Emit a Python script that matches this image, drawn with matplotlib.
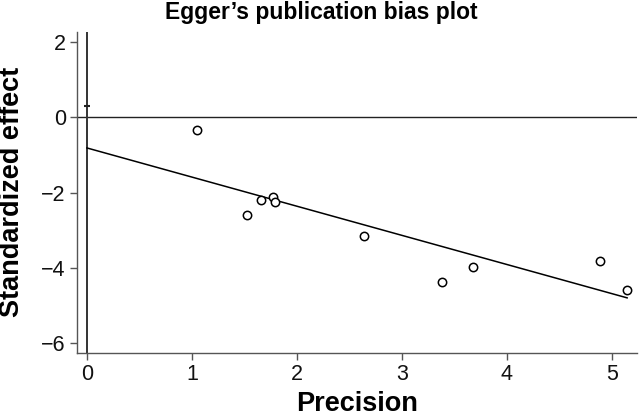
"""
Egger's publication bias plot
"""

import numpy as np
import matplotlib.pyplot as plt

# data
precision = [1.05, 1.52, 1.655, 1.775, 1.79, 2.64, 3.38, 3.68, 4.886, 5.146]
std_effect = [-0.33, -2.61, -2.20, -2.13, -2.26, -3.15, -4.38, -3.98, -3.83, -4.60]

# fitted line (intercept, slope) and upper CI mark of the intercept
fit_intercept = -0.815
fit_slope = -0.775
ci_upper = 0.31

xticks = [0, 1, 2, 3, 4, 5]
yticks = [2, 0, -2, -4, -6]

plt.rcParams['font.family'] = ['Liberation Sans', 'DejaVu Sans']
axcol = '#555555'

fig = plt.figure(figsize=(6.39, 4.20), dpi=100)
W, H = 639, 420
ax = fig.add_axes([77 / W, (H - 353) / H, (637 - 77) / W, (353 - 32) / H])

ax.set_xlim(-0.095, 5.24)
ax.set_ylim(-6.27, 2.27)

# reference lines
ax.axhline(0, color='#222222', lw=1.0, zorder=1)
ax.axvline(0, color='#333333', lw=1.4, zorder=1)
ax.plot([0], [ci_upper], marker='_', color='#222222', ms=5, mew=1.5, zorder=2)

# regression line
xfit = np.array([0, max(precision)])
ax.plot(xfit, fit_intercept + fit_slope * xfit, color='black', lw=1.1, zorder=2)

# studies
ax.scatter(precision, std_effect, s=36, facecolors='white', edgecolors='black',
           linewidths=1.1, zorder=3)

for s in ['top', 'right']:
    ax.spines[s].set_visible(False)
for s in ['left', 'bottom']:
    ax.spines[s].set_color(axcol)
    ax.spines[s].set_linewidth(1.0)

ax.set_xticks(xticks)
ax.set_yticks(yticks)
ax.set_yticklabels(['2', '0', '\u22122', '\u22124', '\u22126'])
ax.tick_params(axis='both', direction='out', length=5, width=1.0, color=axcol,
               labelsize=15.5, labelcolor='#111111', pad=3)

ax.set_xlabel('Precision', fontsize=19.5, fontweight='bold', labelpad=4)
fig.text(12 / W, 1 - 192 / H, 'Standardized effect', rotation=90, ha='center',
         va='center', fontsize=19.5, fontweight='bold')
fig.text(0.503, 1 - 13 / H, 'Egger\u2019s publication bias plot', ha='center',
         va='center', fontsize=16.5, fontweight='bold')

fig.savefig('out.png', dpi=100)
